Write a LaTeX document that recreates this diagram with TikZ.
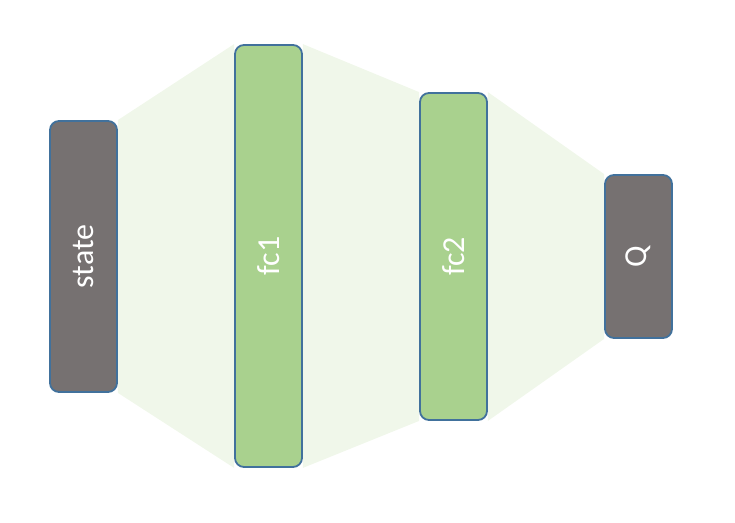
\documentclass[tikz,border=0pt]{standalone}
\usepackage{fontspec}
\setmainfont{Carlito}
\usetikzlibrary{backgrounds}
\definecolor{Layer}{HTML}{A9D18E}
\definecolor{Port}{HTML}{767171}
\definecolor{Edge}{HTML}{41719C}
\definecolor{Flow}{HTML}{F0F7EA}
\tikzset{
  box/.style={draw=Edge,line width=1.8pt,rounded corners=9pt,minimum width=67pt,inner sep=0pt},
  iobox/.style={box,fill=Port},
  fcbox/.style={box,fill=Layer},
  tag/.style={rotate=90,text=white,font=\fontsize{32}{34}\selectfont}
}

\begin{document}
\begin{tikzpicture}[x=1pt,y=-1pt]
  \useasboundingbox (0,0) rectangle (735,522);

  % Layers of the network.
  \node[iobox,minimum height=271pt,label={[tag]center:state}] (state) at (83.5,256.5) {};
  \node[fcbox,minimum height=422pt,label={[tag]center:fc1}] (fc1) at (268.5,256) {};
  \node[fcbox,minimum height=327pt,label={[tag]center:fc2}] (fc2) at (453.5,256.5) {};
  \node[iobox,minimum height=163pt,label={[tag]center:Q}] (q) at (638.5,256.5) {};

  % Shaded links between layers.
  \begin{scope}[on background layer]
    \fill[Flow] (state.north east)--(fc1.north west)--(fc1.south west)--(state.south east)--cycle;
    \fill[Flow] (fc1.north east)--(fc2.north west)--(fc2.south west)--(fc1.south east)--cycle;
    \fill[Flow] (fc2.north east)--(q.north west)--(q.south west)--(fc2.south east)--cycle;
  \end{scope}
\end{tikzpicture}
\end{document}
